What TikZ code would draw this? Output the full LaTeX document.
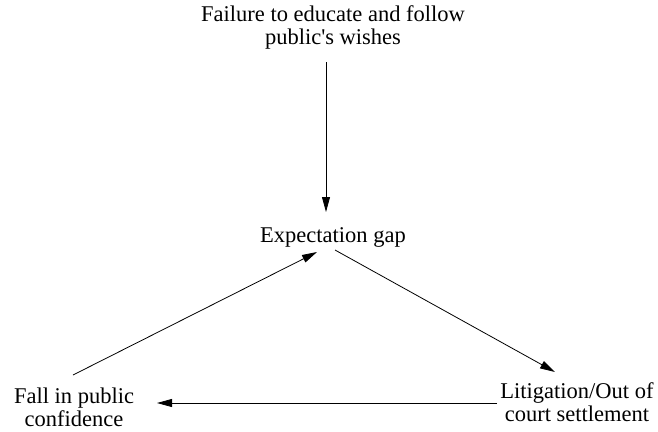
\documentclass[tikz,border=0pt]{standalone}
\usepackage{fontspec}
\setmainfont{Liberation Serif}
\usetikzlibrary{arrows.meta}
\begin{document}
\begin{tikzpicture}[x=1pt,y=-1pt,
  lbl/.style={inner sep=0pt,align=center,font=\fontsize{22.5}{23}\selectfont},
  arr/.style={line width=0.8pt,-{Triangle[length=15pt,width=8pt]}}]
\useasboundingbox (0,0) rectangle (658,431);
\node[lbl] (top) at (333,27) {Failure to educate and follow\\public\textquotesingle s wishes};
\node[lbl] (gap) at (333,237) {Expectation gap};
\node[lbl] (lit) at (577,402) {Litigation/Out of\\court settlement};
\node[lbl] (fall) at (74,407) {Fall in public\\confidence};
\draw[arr] ([xshift=-7pt,yshift=-35pt]top.center) -- ([xshift=-7pt,yshift=25pt]gap.center);
\draw[arr] ([xshift=2pt,yshift=-13pt]gap.center) -- ([xshift=-22pt,yshift=30pt]lit.center);
\draw[arr] ([xshift=-80pt,yshift=-1pt]lit.center) -- ([xshift=83pt,yshift=4pt]fall.center);
\draw[arr] ([xshift=-1pt,yshift=32pt]fall.center) -- ([xshift=-16pt,yshift=-15pt]gap.center);
\end{tikzpicture}
\end{document}
